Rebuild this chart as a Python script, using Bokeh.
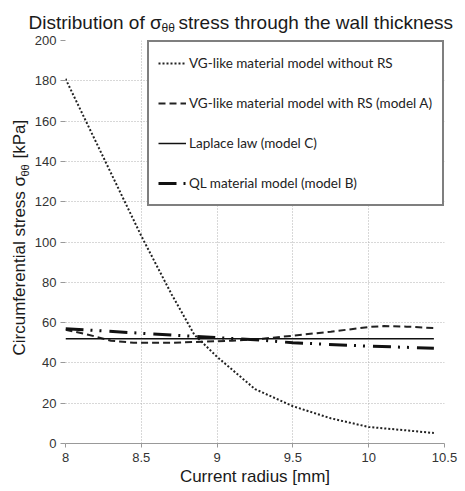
import math
from bokeh.plotting import figure
from bokeh.layouts import column, row
from bokeh.models import Legend, LegendItem, Label, FixedTicker, Range1d
from bokeh.embed import file_html
from bokeh.resources import INLINE

# ---------------- data ----------------
x_ticks = [8, 8.5, 9, 9.5, 10, 10.5]
x_tick_labels = ["8", "8.5", "9", "9.5", "10", "10.5"]
y_ticks = [0, 20, 40, 60, 80, 100, 120, 140, 160, 180, 200]

# VG-like material model without RS (dotted)
r_vg = [8.0, 8.25, 8.5, 8.7, 8.85, 9.0, 9.25, 9.5, 9.75, 10.0, 10.25, 10.43]
s_vg = [181, 142, 103, 74, 54, 43, 27, 18.5, 12.5, 8.2, 6.5, 5.2]

# VG-like material model with RS (model A) (dashed)
r_a = [8.0, 8.15, 8.3, 8.45, 8.7, 8.9, 9.1, 9.3, 9.5, 9.75, 10.0, 10.1, 10.25, 10.43]
s_a = [56.5, 54.0, 51.0, 50.0, 50.0, 50.5, 51.0, 52.0, 53.5, 55.5, 57.8, 58.3, 58.0, 57.3]

# Laplace law (model C) (solid)
r_c = [8.0, 10.43]
s_c = [52.0, 52.0]

# QL material model (model B) (dash-dot-dot)
r_b = [8.0, 8.5, 9.0, 9.25, 9.5, 10.0, 10.43]
s_b = [57.0, 54.7, 52.5, 51.5, 50.0, 48.3, 47.3]

labels = ["VG-like material model without RS",
          "VG-like material model with RS (model A)",
          "Laplace law (model C)",
          "QL material model (model B)"]

title_parts = ["Distribution of σ", "θθ", "stress through the wall thickness"]
ylabel_parts = ["Circumferential stress σ", "θθ", "[kPa]"]
xlabel = "Current radius [mm]"

FONT = "Liberation Sans"
W, H = 465, 491
TITLE_H = 33
YLAB_W = 31
FRAME_L, FRAME_R, FRAME_T, FRAME_B = 64, 444, 40, 443   # page pixels


def text_panel(width, height, y0, y1, top=0, bottom=0):
    f = figure(frame_width=width, frame_height=height, output_backend="svg", title=None,
               toolbar_location=None, x_axis_type=None, y_axis_type=None,
               x_range=Range1d(0, width), y_range=Range1d(y1, y0),
               min_border_left=0, min_border_right=0, min_border_top=top,
               min_border_bottom=bottom)
    f.outline_line_color = None
    f.background_fill_color = "white"
    f.border_fill_color = "white"
    return f


# ---------------- title panel ----------------
tf = text_panel(W, TITLE_H, 0, TITLE_H)
for txt, X, Y, fs in zip(title_parts, [28, 161, 178], [22, 27, 22], ["19px", "12px", "19px"]):
    tf.add_layout(Label(x=X, y=Y, text=txt, text_font=FONT, text_font_size=fs,
                        text_color="#1a1a1a", text_align="left",
                        text_baseline="alphabetic"))

# ---------------- y label panel (its frame lines up with the chart frame) ----------------
yf = text_panel(YLAB_W, FRAME_B - FRAME_T, FRAME_T, FRAME_B,
                top=FRAME_T - TITLE_H, bottom=H - FRAME_B)
for txt, X, Y, fs in zip(ylabel_parts, [19, 24, 19], [355, 176, 158], ["17px", "11px", "17px"]):
    yf.add_layout(Label(x=X, y=Y, text=txt, text_font=FONT, text_font_size=fs,
                        text_color="#1a1a1a", text_align="left",
                        text_baseline="middle", angle=math.pi / 2))

# ---------------- main chart ----------------
p = figure(width=W - YLAB_W, height=H - TITLE_H, output_backend="svg", title=None,
           toolbar_location=None,
           x_range=Range1d(8.0, 10.5), y_range=Range1d(0, 200),
           min_border_left=FRAME_L - YLAB_W, min_border_right=W - FRAME_R,
           min_border_top=FRAME_T - TITLE_H, min_border_bottom=H - FRAME_B)
p.outline_line_color = None
p.background_fill_color = "white"

p.xaxis.ticker = FixedTicker(ticks=x_ticks)
p.xaxis.major_label_overrides = {t: l for t, l in zip(x_ticks, x_tick_labels)}
p.yaxis.ticker = FixedTicker(ticks=y_ticks)
p.xgrid.ticker = FixedTicker(ticks=x_ticks)
p.ygrid.ticker = FixedTicker(ticks=y_ticks)

for ax in (p.xaxis, p.yaxis):
    ax.major_label_text_font = FONT
    ax.major_label_text_font_size = "13px"
    ax.major_label_text_color = "#333333"
    ax.minor_tick_line_color = None
    ax.major_tick_line_color = "#999999"
    ax.major_tick_in = 0
p.xaxis.major_tick_out = 4
p.xaxis.major_label_standoff = 5
p.xaxis.axis_line_color = "#999999"
p.xaxis.axis_label = xlabel
p.xaxis.axis_label_text_font = FONT
p.xaxis.axis_label_text_font_size = "17px"
p.xaxis.axis_label_text_font_style = "normal"
p.xaxis.axis_label_text_color = "#1a1a1a"
p.xaxis.axis_label_standoff = 2
p.yaxis.major_tick_out = 5
p.yaxis.major_label_standoff = 4
p.yaxis.axis_line_color = None

for g in (p.xgrid, p.ygrid):
    g.grid_line_color = "#b0b0b0"
    g.grid_line_dash = "1 2"
    g.grid_line_width = 1

r1 = p.line(r_vg, s_vg, line_color="#222222", line_width=2, line_dash="2 2")
r2 = p.line(r_a, s_a, line_color="#222222", line_width=2, line_dash="7 4")
r3 = p.line(r_c, s_c, line_color="#111111", line_width=1.5)
r4 = p.line(r_b, s_b, line_color="#111111", line_width=3, line_dash="18 7 2 7 2 8")

legend = Legend(items=[LegendItem(label=l, renderers=[r]) for l, r in zip(labels, [r1, r2, r3, r4])],
                location="top_right", margin=0, padding=9, spacing=16,
                label_height=24, glyph_height=24, glyph_width=28, label_standoff=3,
                label_width=244, label_text_font="Lato", label_text_font_size="13.5px",
                label_text_color="#222222", border_line_color="black",
                border_line_width=2, background_fill_color="white",
                background_fill_alpha=1.0)
p.add_layout(legend, "center")

layout = column(tf, row(yf, p, spacing=0), spacing=0)
open("out.html", "w").write(file_html(layout, INLINE))
